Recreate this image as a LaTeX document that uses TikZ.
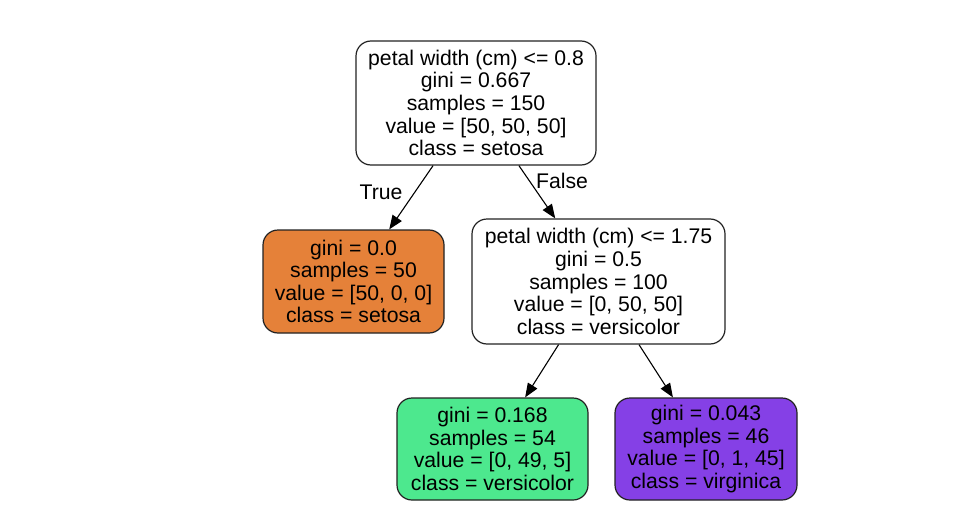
\documentclass[tikz,border=0pt]{standalone}
\usepackage{fontspec}
\setmainfont{Liberation Sans}
\usetikzlibrary{arrows.meta}
\definecolor{setosaC}{HTML}{E58139}
\definecolor{versiC}{HTML}{4DE88E}
\definecolor{virgC}{HTML}{8540E6}
\definecolor{edgeC}{HTML}{222222}
\tikzset{
  treenode/.style={draw=edgeC, line width=1.2pt, rounded corners=15pt, align=center,
    inner sep=0pt, font=\fontsize{21.2}{22.6}\selectfont, text=black},
  treeedge/.style={draw=black, line width=1.1pt, -{Triangle[length=14pt,width=11pt]}},
  edgelabel/.style={font=\fontsize{21.2}{22.6}\selectfont, inner sep=0pt}
}
\begin{document}
\begin{tikzpicture}[x=1pt,y=-1pt]
\useasboundingbox[fill=white] (0,0) rectangle (961,511);
\node[treenode, minimum width=240pt, minimum height=124pt] (root) at (476,103)
  {petal width (cm) <= 0.8\\gini = 0.667\\samples = 150\\value = [50, 50, 50]\\class = setosa};
\node[treenode, fill=setosaC, minimum width=181pt, minimum height=103pt] (left) at (353.5,281.5)
  {gini = 0.0\\samples = 50\\value = [50, 0, 0]\\class = setosa};
\node[treenode, minimum width=253pt, minimum height=125pt] (right) at (598.5,281.5)
  {petal width (cm) <= 1.75\\gini = 0.5\\samples = 100\\value = [0, 50, 50]\\class = versicolor};
\node[treenode, fill=versiC, minimum width=191pt, minimum height=102pt] (green) at (492.5,449)
  {gini = 0.168\\samples = 54\\value = [0, 49, 5]\\class = versicolor};
\node[treenode, fill=virgC, minimum width=182pt, minimum height=102pt] (purple) at (706,449)
  {gini = 0.043\\samples = 46\\value = [0, 1, 45]\\class = virginica};
\draw[treeedge] (root) -- (left);
\draw[treeedge] (root) -- (right);
\draw[treeedge] (right) -- (green);
\draw[treeedge] (right) -- (purple);
\node[edgelabel] (truelab) at (381,192) {True};
\node[edgelabel] (falselab) at (562,181) {False};
\end{tikzpicture}
\end{document}
